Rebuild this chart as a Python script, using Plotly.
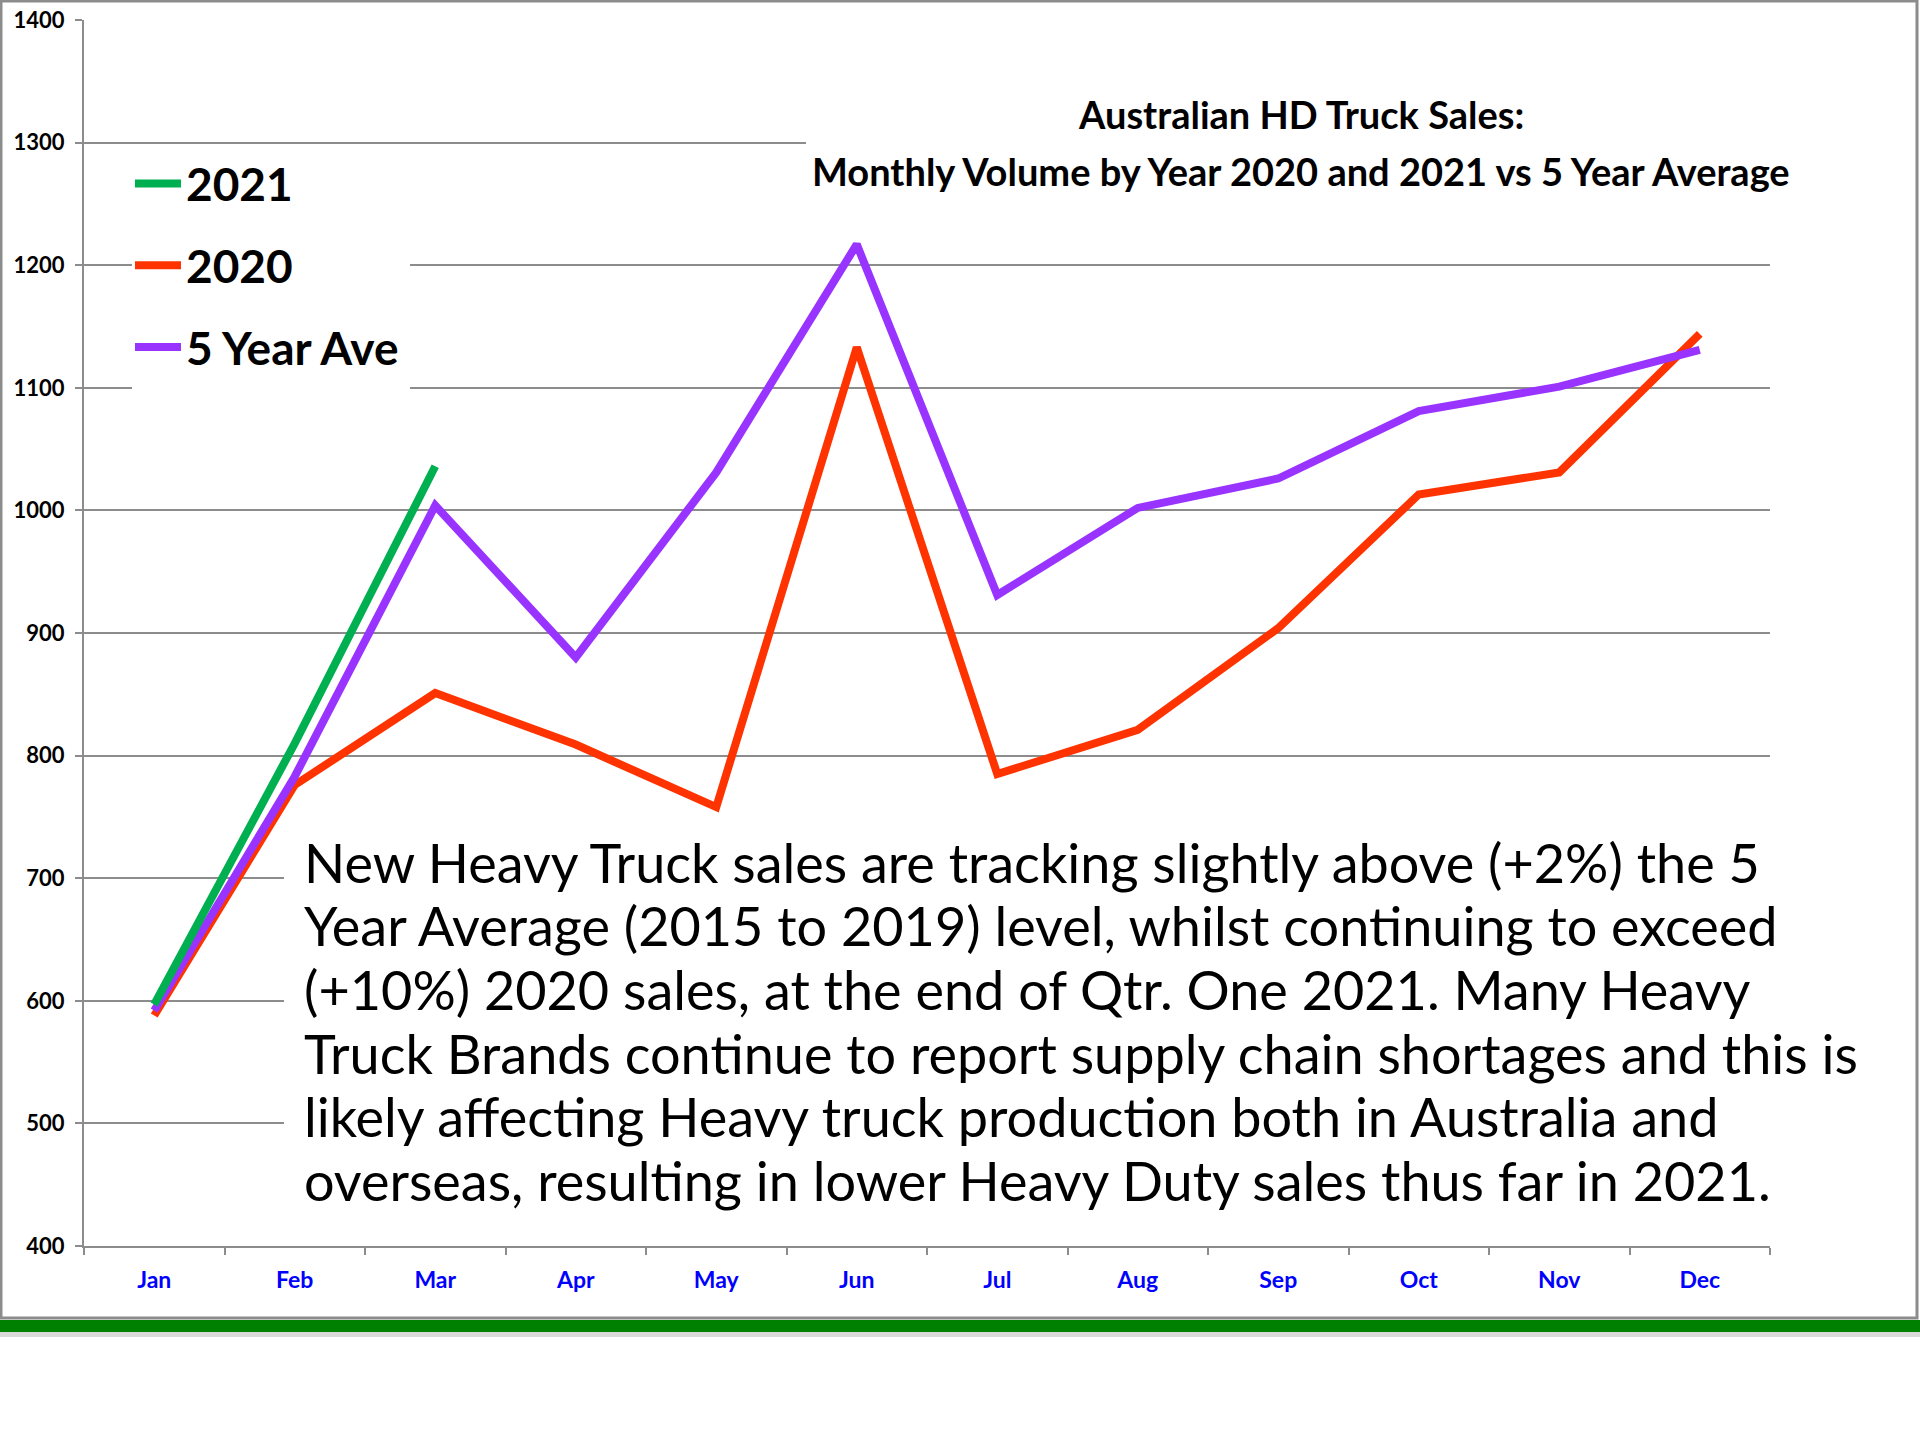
import plotly.graph_objects as go

months = ["Jan", "Feb", "Mar", "Apr", "May", "Jun", "Jul", "Aug", "Sep", "Oct", "Nov", "Dec"]
sales_2021 = [597, 810, 1036]
sales_2020 = [588, 776, 851, 809, 758, 1133, 785, 821, 904, 1013, 1031, 1144]
five_year_ave = [592, 783, 1004, 880, 1031, 1217, 931, 1002, 1026, 1081, 1101, 1131]

title_lines = [
    "Australian HD Truck Sales:",
    "Monthly Volume by Year 2020 and 2021 vs 5 Year Average",
]
note_lines = [
    "New Heavy Truck sales are tracking slightly above (+2%) the 5",
    "Year Average (2015 to 2019) level, whilst continuing to exceed",
    "(+10%) 2020 sales, at the end of Qtr. One 2021. Many Heavy",
    "Truck Brands continue to report supply chain shortages and this is",
    "likely affecting Heavy truck production both in Australia and",
    "overseas, resulting in lower Heavy Duty sales thus far in 2021.",
]

W, H = 1920, 1440
L, R, T, B = 84, 150, 20, 194
PW, PH = W - L - R, H - T - B

def px(x):
    return (x - L) / PW

def py(y):
    return (H - B - y) / PH

FONT = "Lato, Carlito, Calibri, sans-serif"
GRID = "#8c8c8c"

fig = go.Figure()
fig.add_trace(go.Scatter(x=months, y=sales_2020, name="2020", mode="lines",
                         line=dict(color="#FF3300", width=8), legendrank=2, legendgroup="b"))
fig.add_trace(go.Scatter(x=months, y=five_year_ave, name="5 Year Ave", mode="lines",
                         line=dict(color="#9933FF", width=8), legendrank=3, legendgroup="c"))
fig.add_trace(go.Scatter(x=months[:len(sales_2021)], y=sales_2021, name="2021", mode="lines",
                         line=dict(color="#00B050", width=8), legendrank=1, legendgroup="a"))

fig.update_layout(
    width=W, height=H, autosize=False,
    margin=dict(l=L, r=R, t=T, b=B, pad=0, autoexpand=False),
    paper_bgcolor="white", plot_bgcolor="white",
    showlegend=True,
    legend=dict(x=px(130), y=py(147), xanchor="left", yanchor="top",
                bgcolor="rgba(0,0,0,0)", font=dict(family=FONT, size=46, color="black", weight="bold"),
                itemwidth=46, tracegroupgap=19, traceorder="grouped"),
)
fig.update_yaxes(range=[400, 1400], dtick=100, showgrid=True, gridcolor=GRID, gridwidth=2,
                 showline=True, linecolor=GRID, linewidth=2, ticks="outside", ticklen=7,
                 tickcolor=GRID, tickwidth=2, zeroline=False, ticklabelstandoff=6, automargin=False,
                 tickfont=dict(family=FONT, size=22, color="black", weight="bold"))
fig.update_xaxes(type="category", range=[-0.5, 11.5], tickson="boundaries", showgrid=False,
                 showline=True, linecolor=GRID, linewidth=2, ticks="outside", ticklen=7,
                 tickcolor=GRID, tickwidth=2, ticklabelstandoff=12, automargin=False,
                 tickfont=dict(family=FONT, size=23, color="#0000FF", weight="bold"))

# white boxes masking the gridlines behind legend, title and note
for x0, x1, y0, y1 in [(132, 410, 150, 396), (806, 1800, 80, 205), (284, 1800, 820, 1215)]:
    fig.add_shape(type="rect", xref="paper", yref="paper", x0=px(x0), x1=px(x1), y0=py(y0), y1=py(y1),
                  line=dict(width=0), fillcolor="white", layer="above")

# title
for t, yc in zip(title_lines, [114.5, 170.5]):
    fig.add_annotation(xref="paper", yref="paper", x=px(1301), y=py(yc), xanchor="center", yanchor="middle",
                       text=t, showarrow=False,
                       font=dict(family=FONT, size=38, color="black", weight="bold"))
# note
for i, line in enumerate(note_lines):
    fig.add_annotation(xref="paper", yref="paper", x=px(302), y=py(862 + i * 63.7), xanchor="left",
                       yanchor="middle", text=line, showarrow=False, align="left",
                       font=dict(family=FONT, size=54, color="black"))

# outer frame and green bar
fig.add_shape(type="rect", xref="paper", yref="paper", x0=px(1), x1=px(1917), y0=py(1), y1=py(1318),
              line=dict(color="#8c8c8c", width=3), fillcolor="rgba(0,0,0,0)", layer="below")
fig.add_shape(type="rect", xref="paper", yref="paper", x0=px(0), x1=px(1920), y0=py(1332), y1=py(1337),
              line=dict(width=0), fillcolor="#d9d9d9")
fig.add_shape(type="rect", xref="paper", yref="paper", x0=px(0), x1=px(1920), y0=py(1320), y1=py(1332),
              line=dict(width=0), fillcolor="#008000")

fig.write_html("out.html", config={"displayModeBar": False},
               post_script="document.body.style.margin='0';document.body.style.padding='0';")
